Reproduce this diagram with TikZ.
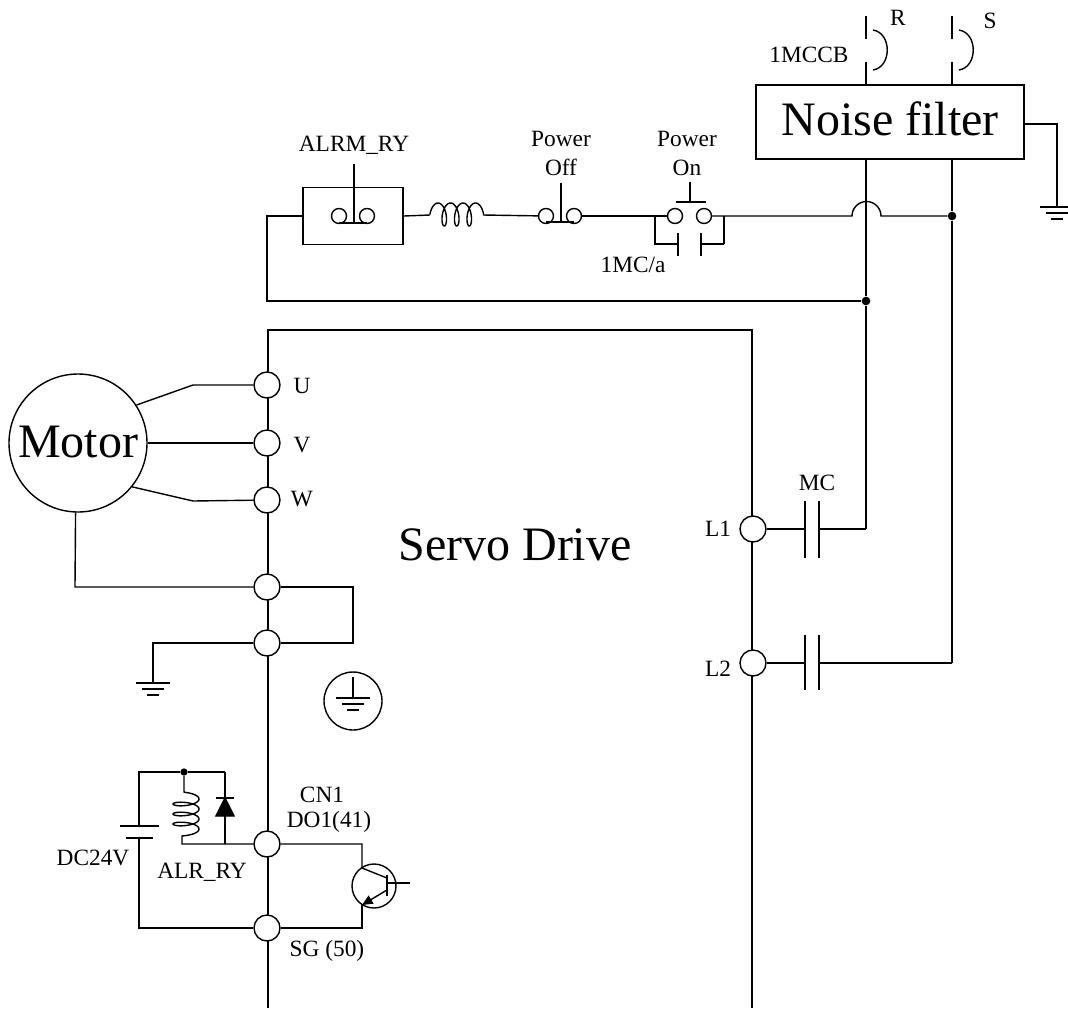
\documentclass[tikz,border=0pt]{standalone}
\usepackage{fontspec}
\setmainfont{Liberation Serif}
\usetikzlibrary{arrows.meta,positioning}

\begin{document}
\begin{tikzpicture}[
    x=0.75pt, y=-0.75pt,
    wire/.style={line width=1.05pt, line join=miter},
    lbl/.style={inner sep=0pt, align=center, font=\fontsize{17.5}{21.75}\selectfont},
    big/.style={inner sep=0pt, font=\fontsize{36}{40}\selectfont},
    term/.style={circle, draw, line width=1.05pt, fill=white, minimum size=19.5pt, inner sep=0pt},
    contact/.style={circle, draw, line width=1.05pt, fill=white, minimum size=11.25pt, inner sep=0pt},
    dot/.style={circle, fill, minimum size=6.5pt, inner sep=0pt},
    gnd/.pic={
        \draw[wire] (-17,0) -- (17,0);
        \draw[wire] (-11,6) -- (11,6);
        \draw[wire] (-6,12) -- (6,12);
    }
]
    \useasboundingbox (0,0) rectangle (1068,1008);

    % servo drive outline
    \coordinate (drvBL) at (268,1008);
    \coordinate (drvTL) at (268,330);
    \coordinate (drvTR) at (752,330);
    \coordinate (drvBR) at (752,1008);
    \draw[wire] (drvBL) -- (drvTL) -- (drvTR) -- (drvBR);
    \node[big] (drive) at (515,545) {Servo Drive};

    % terminals
    \node[term] (tU) at (267,385) {};
    \node[term] (tV) at (267,443) {};
    \node[term] (tW) at (267,500) {};
    \node[term] (tPE) at (267,587) {};
    \node[term] (tGND) at (267,643) {};
    \node[term] (tDO) at (267,844) {};
    \node[term] (tSG) at (267,928) {};
    \node[term] (tL1) at (753,529) {};
    \node[term] (tL2) at (753,663) {};

    \node[lbl] at (302,386) {U};
    \node[lbl] at (302,445) {V};
    \node[lbl] at (302,499) {W};
    \node[lbl] at (718,529) {L1};
    \node[lbl] at (718,669) {L2};
    \node[lbl] at (322,795) {CN1};
    \node[lbl] at (329,822) {DO1(41)};
    \node[lbl] at (327,951) {SG (50)};

    % motor
    \node[circle, draw, line width=1.05pt, minimum size=103.5pt, inner sep=0pt] (motor) at (78,443) {};
    \node[big] at (78,442) {Motor};
    \coordinate (bendU) at (193,385);
    \coordinate (bendW) at (193,501);
    \coordinate (bendPE) at (75,587);
    \draw[wire] (motor.33) -- (bendU) -- (tU);
    \draw[wire] (motor) -- (tV);
    \draw[wire] (motor.-39) -- (bendW) -- (tW);
    \draw[wire] (motor.-92) -- (bendPE) -- (tPE);
    \coordinate (loopA) at (353,587);
    \coordinate (loopB) at (353,643);
    \draw[wire] (tPE) -- (loopA) -- (loopB) -- (tGND);

    % earth
    \coordinate (earthA) at (153,643);
    \coordinate (earthB) at (153,683);
    \draw[wire] (tGND) -- (earthA) -- (earthB);
    \pic at (earthB) {gnd};
    \node[circle, draw, line width=1.05pt, minimum size=43.5pt, inner sep=0pt] (pe) at (353,701) {};
    \coordinate (peTop) at (353,677);
    \coordinate (peBar) at (353,698);
    \draw[wire] (peTop) -- (peBar);
    \pic at (peBar) {gnd};

    % noise filter and breakers
    \node[draw, line width=1.05pt, minimum width=201pt, minimum height=55.5pt, inner sep=0pt,
        text depth=4.5pt, font=\fontsize{36}{40}\selectfont] (filter) at (890,122) {Noise filter};
    \foreach \name/\xpos in {R/866, S/952} {
        \coordinate (in\name) at (\xpos,16);
        \coordinate (brk\name) at (\xpos,39);
        \coordinate (out\name) at (\xpos,62);
        \coordinate (fil\name) at (\xpos,85);
        \draw[wire] (in\name) -- (brk\name);
        \draw[wire] (out\name) -- (fil\name);
    }
    \draw[wire] (873,30) .. controls (892,33) and (892,67) .. (873,70);
    \draw[wire] (959,30) .. controls (978,33) and (978,67) .. (959,70);
    \node[lbl] at (898,18) {R};
    \node[lbl] at (990,21) {S};
    \node[lbl] at (809,55) {1MCCB};
    \coordinate (fgA) at (1057,124);
    \coordinate (fgB) at (1057,207);
    \draw[wire] (filter.east |- fgA) -- (fgA) -- (fgB);
    \pic at (fgB) {gnd};

    % power lines
    \node[dot] (jR) at (866,301) {};
    \node[dot] (jS) at (952,216) {};
    \coordinate (filR) at (866,159);
    \coordinate (filS) at (952,159);
    \coordinate (mcR) at (866,529);
    \coordinate (mcS) at (952,663);
    \draw[wire] (filR) -- (jR) -- (mcR);
    \draw[wire] (filS) -- (jS) -- (mcS);

    % MC contacts
    \foreach \name/\ypos/\ytop/\ybot in {A/529/501/558, B/663/635/690} {
        \coordinate (mc\name L) at (805,\ypos);
        \coordinate (mc\name R) at (819,\ypos);
        \draw[wire] (805,\ytop) -- (805,\ybot);
        \draw[wire] (819,\ytop) -- (819,\ybot);
    }
    \node[lbl] at (817,483) {MC};
    \draw[wire] (tL1) -- (mcAL);
    \draw[wire] (mcAR) -- (mcR);
    \draw[wire] (tL2) -- (mcBL);
    \draw[wire] (mcBR) -- (mcS);

    % control chain
    \node[draw, line width=1.05pt, minimum width=75pt, minimum height=42.75pt, inner sep=0pt] (alarm) at (353,216) {};
    \node[contact] (almA) at (339,216) {};
    \node[contact] (almB) at (367,216) {};
    \draw[wire] (339,223) -- (367,223);
    \draw[wire] (354,164) -- (354,223);
    \node[lbl] at (354,145) {ALRM\_RY};
    \coordinate (retA) at (267,216);
    \coordinate (retB) at (267,301);
    \draw[wire] (alarm.west) -- (retA) -- (retB) -- (jR);

    \coordinate (coilA) at (430,215);
    \coordinate (coilB) at (483,215);
    \draw[wire] (alarm.east) -- (coilA);
    \draw[wire] plot[domain=-90:1170, samples=140] ({438+12.5*\x/360+5*sin(\x)},{214.5-11.5*cos(\x)});

    \node[contact] (offA) at (546,216) {};
    \node[contact] (offB) at (574,216) {};
    \draw[wire] (546,222) -- (574,222);
    \draw[wire] (561,183) -- (561,222);
    \node[lbl] at (561,153) {Power\\Off};
    \draw[wire] (coilB) -- (offA);

    \node[contact] (onA) at (675,216) {};
    \node[contact] (onB) at (704,216) {};
    \draw[wire] (676,202) -- (706,202);
    \draw[wire] (690,182) -- (690,202);
    \node[lbl] at (687,153) {Power\\On};
    \draw[wire] (offB) -- (onA);

    % 1MC/a hold contact
    \coordinate (holdA) at (655,216);
    \coordinate (holdB) at (724,216);
    \coordinate (holdC) at (655,244);
    \coordinate (holdD) at (678,244);
    \coordinate (holdE) at (701,244);
    \coordinate (holdF) at (724,244);
    \draw[wire] (holdA) -- (holdC) -- (holdD);
    \draw[wire] (holdF) -- (holdB);
    \draw[wire] (holdE) -- (holdF);
    \draw[wire] (678,233) -- (678,256);
    \draw[wire] (701,233) -- (701,256);
    \node[lbl] at (633,265) {1MC/a};

    \coordinate (hopA) at (852,216);
    \draw[wire] (onB) -- (hopA) arc[start angle=180, end angle=360, radius=14.5] -- (jS);

    % relay and battery
    \node[dot, minimum size=5.5pt] (jCoil) at (184,772) {};
    \coordinate (batTop) at (139,772);
    \coordinate (dioTop) at (225,772);
    \coordinate (batA) at (139,826);
    \coordinate (batB) at (139,838);
    \coordinate (batC) at (139,928);
    \draw[wire] (batA) -- (batTop) -- (jCoil) -- (dioTop);
    \draw[wire] (120,826) -- (159,826);
    \draw[wire] (126,838) -- (153,838);
    \draw[wire] (batB) -- (batC) -- (tSG);
    \node[lbl] at (93,858) {DC24V};
    \node[lbl] at (202,872) {ALR\_RY};

    \coordinate (rlyA) at (184,792);
    \coordinate (rlyS) at (186,792.5);
    \coordinate (rlyB) at (182,836);
    \coordinate (rlyE) at (186,835.5);
    \coordinate (rlyC) at (182,844);
    \coordinate (dioBot) at (225,844);
    \draw[wire] (jCoil) -- (rlyA) -- (rlyS);
    \draw[wire] plot[domain=-90:1170, samples=140] ({186+13*cos(\x)},{799+10*\x/360+4*sin(\x)});
    \draw[wire] (rlyE) -- (rlyB) -- (rlyC) -- (dioBot) -- (tDO);
    \draw[wire] (dioTop) -- (dioBot);
    \draw[wire, fill=black] (216,816) -- (234,816) -- (225,798) -- cycle;
    \draw[wire] (216,798) -- (234,798);

    % transistor
    \node[circle, draw, line width=1.05pt, minimum size=33pt, inner sep=0pt] (npn) at (374,886) {};
    \coordinate (cTop) at (362,844);
    \coordinate (cIn) at (362,868);
    \coordinate (cBase) at (387,878);
    \coordinate (eBase) at (387,890);
    \coordinate (eIn) at (362,905);
    \coordinate (eBot) at (362,928);
    \coordinate (baseIn) at (387,883);
    \coordinate (baseOut) at (410,883);
    \draw[wire] (tDO) -- (cTop) -- (cIn) -- (cBase);
    \draw[wire, -{Triangle[length=8pt,width=7pt]}] (eBase) -- (eIn);
    \draw[wire] (eIn) -- (eBot) -- (tSG);
    \draw[wire] (387,875) -- (387,896);
    \draw[wire] (baseIn) -- (baseOut);
\end{tikzpicture}
\end{document}
